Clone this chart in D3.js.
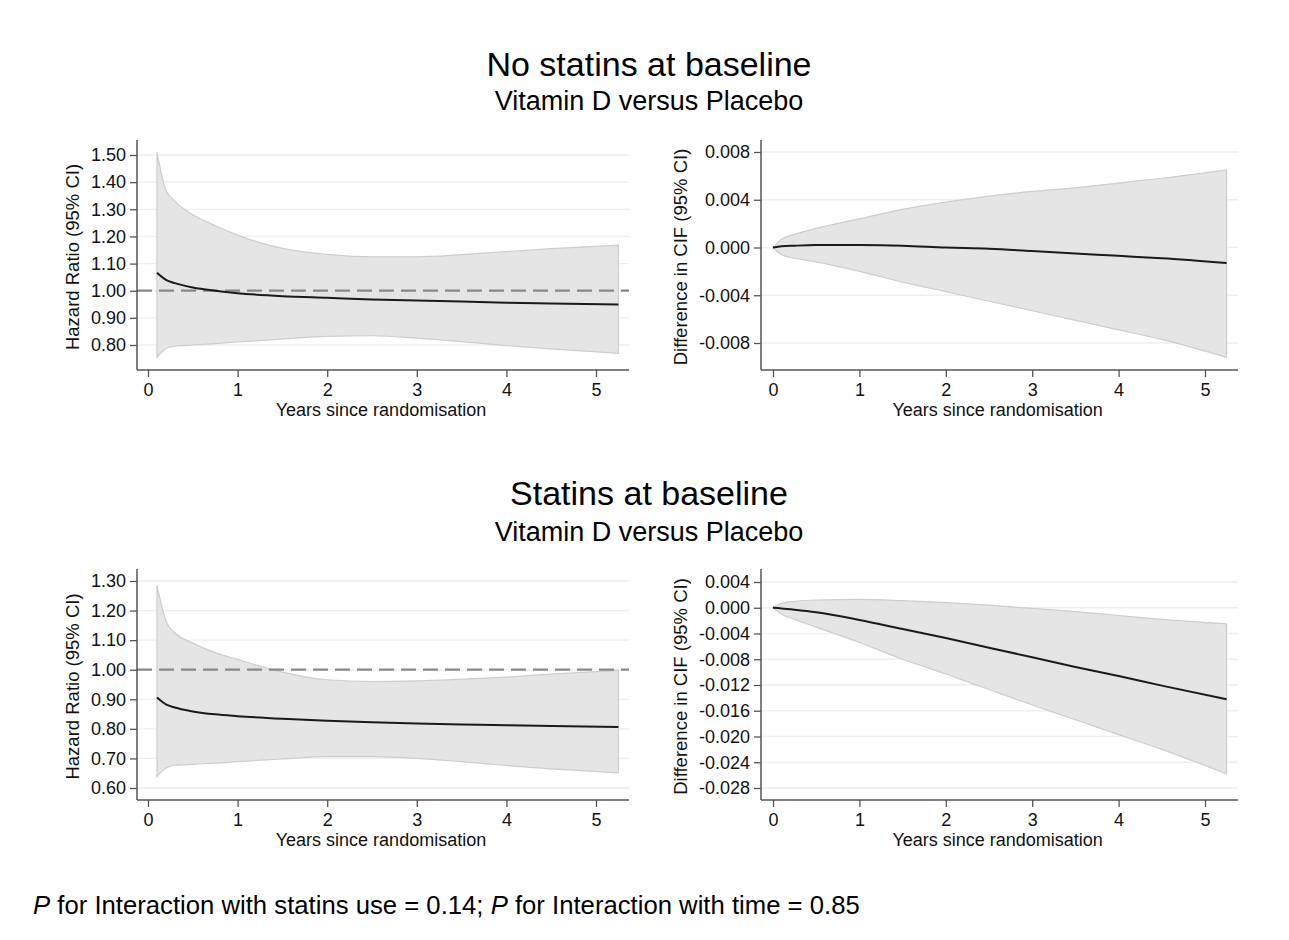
<!DOCTYPE html>
<html>
<head>
<meta charset="utf-8">
<title>Vitamin D versus Placebo by statin use</title>
<script src="https://d3js.org/d3.v7.min.js"></script>
<style>
  html, body { margin: 0; background: #fff; }
  svg { display: block; font-family: "Liberation Sans", Arial, sans-serif; }
</style>
</head>
<body>
<svg id="chart" width="1289" height="940"></svg>
<script>
// Time points (years since randomisation)
const hrYears  = [0.1, 0.2, 0.3, 0.5, 0.75, 1, 1.5, 2, 2.5, 3, 3.5, 4, 4.5, 5.25];
const cifYears = [0, 0.1, 0.25, 0.5, 1, 1.5, 2, 2.5, 3, 3.5, 4, 4.5, 5.25];

// No statins at baseline: hazard ratio
const noStatHR   = [1.066, 1.040, 1.028, 1.012, 1.000, 0.991, 0.980, 0.974, 0.968, 0.964, 0.960, 0.956, 0.953, 0.949];
const noStatHRhi = [1.51, 1.37, 1.33, 1.28, 1.24, 1.205, 1.156, 1.134, 1.125, 1.125, 1.133, 1.144, 1.155, 1.168];
const noStatHRlo = [0.754, 0.787, 0.796, 0.800, 0.805, 0.811, 0.822, 0.832, 0.834, 0.825, 0.812, 0.798, 0.786, 0.769];

// No statins at baseline: difference in CIF
const noStatCIF   = [0, 0.0001, 0.00015, 0.0002, 0.0002, 0.00015, 0.0, -0.0001, -0.0003, -0.0005, -0.0007, -0.0009, -0.0013];
const noStatCIFhi = [0, 0.0007, 0.0011, 0.0016, 0.0024, 0.0032, 0.0038, 0.0043, 0.0047, 0.0050, 0.0054, 0.0058, 0.0065];
const noStatCIFlo = [0, -0.0006, -0.0009, -0.0012, -0.0020, -0.0029, -0.0037, -0.0045, -0.0053, -0.0061, -0.0069, -0.0077, -0.0092];

// Statins at baseline: hazard ratio
const statHR   = [0.906, 0.883, 0.872, 0.859, 0.849, 0.843, 0.834, 0.827, 0.822, 0.818, 0.815, 0.812, 0.810, 0.806];
const statHRhi = [1.285, 1.165, 1.125, 1.09, 1.058, 1.035, 0.992, 0.966, 0.960, 0.962, 0.968, 0.975, 0.985, 0.998];
const statHRlo = [0.638, 0.668, 0.677, 0.680, 0.684, 0.689, 0.698, 0.706, 0.706, 0.700, 0.689, 0.676, 0.665, 0.651];

// Statins at baseline: difference in CIF
const statCIF   = [0, -0.0001, -0.0003, -0.0007, -0.0019, -0.0033, -0.0047, -0.0062, -0.0077, -0.0092, -0.0106, -0.0121, -0.0142];
const statCIFhi = [0, 0.0007, 0.0010, 0.0012, 0.0013, 0.0011, 0.0008, 0.0004, -0.0001, -0.0006, -0.0012, -0.0018, -0.0025];
const statCIFlo = [0, -0.0010, -0.0018, -0.0030, -0.0054, -0.0080, -0.0103, -0.0127, -0.0151, -0.0174, -0.0197, -0.0220, -0.0258];

// Tick values
const xTicks = [0, 1, 2, 3, 4, 5];
const noStatHRTicks  = [0.8, 0.9, 1.0, 1.1, 1.2, 1.3, 1.4, 1.5];
const noStatCIFTicks = [-0.008, -0.004, 0, 0.004, 0.008];
const statHRTicks    = [0.6, 0.7, 0.8, 0.9, 1.0, 1.1, 1.2, 1.3];
const statCIFTicks   = [-0.028, -0.024, -0.020, -0.016, -0.012, -0.008, -0.004, 0, 0.004];

const titles = ["No statins at baseline", "Statins at baseline"];
const subtitle = "Vitamin D versus Placebo";
const xLabel = "Years since randomisation";
const hrLabel = "Hazard Ratio (95% CI)";
const cifLabel = "Difference in CIF (95% CI)";

const svg = d3.select("#chart");

const fmt2 = d3.format(".2f");
const fmt3 = d => d3.format(".3f")(d).replace("\u2212", "-");

const panels = [
  { years: hrYears, est: noStatHR, lo: noStatHRlo, hi: noStatHRhi, ticks: noStatHRTicks, fmt: fmt2,
    label: hrLabel, ref: 1, left: 137, right: 629, x0: 148, x5: 596, top: 140, bottom: 370,
    yA: 1.5, pA: 155, yB: 0.8, pB: 345, labelX: 79 },
  { years: cifYears, est: noStatCIF, lo: noStatCIFlo, hi: noStatCIFhi, ticks: noStatCIFTicks, fmt: fmt3,
    label: cifLabel, ref: null, left: 761, right: 1238, x0: 773, x5: 1205, top: 140, bottom: 370,
    yA: 0.008, pA: 152, yB: -0.008, pB: 343, labelX: 687 },
  { years: hrYears, est: statHR, lo: statHRlo, hi: statHRhi, ticks: statHRTicks, fmt: fmt2,
    label: hrLabel, ref: 1, left: 137, right: 629, x0: 148, x5: 596, top: 569, bottom: 800,
    yA: 1.3, pA: 581, yB: 0.6, pB: 788, labelX: 79 },
  { years: cifYears, est: statCIF, lo: statCIFlo, hi: statCIFhi, ticks: statCIFTicks, fmt: fmt3,
    label: cifLabel, ref: null, left: 761, right: 1238, x0: 773, x5: 1205, top: 569, bottom: 800,
    yA: 0.004, pA: 582, yB: -0.028, pB: 788, labelX: 687 }
];

const axisColor = "#555";

panels.forEach(p => {
  const x = d3.scaleLinear().domain([0, 5]).range([p.x0, p.x5]);
  const y = d3.scaleLinear().domain([p.yB, p.yA]).range([p.pB, p.pA]);
  const g = svg.append("g");

  // gridlines
  g.selectAll(".grid").data(p.ticks).join("line")
    .attr("x1", p.left).attr("x2", p.right)
    .attr("y1", d => y(d)).attr("y2", d => y(d))
    .attr("stroke", "#e9f1f2").attr("stroke-width", 1.3);

  const rows = p.years.map((t, i) => ({ t, est: p.est[i], lo: p.lo[i], hi: p.hi[i] }));

  // confidence band
  g.append("path").datum(rows)
    .attr("fill", "#e5e5e5").attr("stroke", "#cdcdcd").attr("stroke-width", 1.2)
    .attr("d", d3.area().x(d => x(d.t)).y0(d => y(d.lo)).y1(d => y(d.hi)).curve(d3.curveMonotoneX));

  // reference line
  if (p.ref !== null) {
    g.append("line")
      .attr("x1", p.left).attr("x2", p.right)
      .attr("y1", y(p.ref)).attr("y2", y(p.ref))
      .attr("stroke", "#888").attr("stroke-width", 2.2).attr("stroke-dasharray", "15,7");
  }

  // estimate line
  g.append("path").datum(rows)
    .attr("fill", "none").attr("stroke", "#1a1a1a").attr("stroke-width", 2)
    .attr("d", d3.line().x(d => x(d.t)).y(d => y(d.est)).curve(d3.curveMonotoneX));

  // y axis
  const ya = g.append("g").attr("transform", `translate(${p.left},0)`)
    .call(d3.axisLeft(y).tickValues(p.ticks).tickFormat(p.fmt).tickSize(7).tickPadding(4).tickSizeOuter(0));
  ya.select(".domain").remove();
  ya.append("line").attr("y1", p.top).attr("y2", p.bottom).attr("stroke", axisColor).attr("stroke-width", 1.5);
  ya.selectAll(".tick line").attr("stroke", axisColor).attr("stroke-width", 1.3);
  ya.selectAll(".tick text").attr("fill", "#111").style("font-size", "18px");

  // x axis
  const xa = g.append("g").attr("transform", `translate(0,${p.bottom})`)
    .call(d3.axisBottom(x).tickValues(xTicks).tickFormat(d3.format("d")).tickSize(7).tickPadding(6).tickSizeOuter(0));
  xa.select(".domain").remove();
  xa.append("line").attr("x1", p.left).attr("x2", p.right).attr("stroke", axisColor).attr("stroke-width", 1.5);
  xa.selectAll(".tick line").attr("stroke", axisColor).attr("stroke-width", 1.3);
  xa.selectAll(".tick text").attr("fill", "#111").style("font-size", "18px");

  // axis titles
  g.append("text")
    .attr("x", x(2.6)).attr("y", p.bottom + 46)
    .attr("text-anchor", "middle").style("font-size", "18px").attr("fill", "#111")
    .text(xLabel);
  g.append("text")
    .attr("transform", `translate(${p.labelX},${(p.top + p.bottom) / 2 + 2}) rotate(-90)`)
    .attr("text-anchor", "middle").style("font-size", "18.5px").attr("fill", "#111")
    .text(p.label);
});

// block titles
[[76, 110], [505, 541]].forEach(([ty, sy], i) => {
  svg.append("text").attr("x", 649).attr("y", ty).attr("text-anchor", "middle")
    .style("font-size", "34px").attr("fill", "#000").text(titles[i]);
  svg.append("text").attr("x", 649).attr("y", sy).attr("text-anchor", "middle")
    .style("font-size", "27px").attr("fill", "#000").text(subtitle);
});

// footnote
const note = svg.append("text").attr("x", 33).attr("y", 914).style("font-size", "25.7px").attr("fill", "#000");
note.append("tspan").style("font-style", "italic").text("P");
note.append("tspan").text(" for Interaction with statins use = 0.14; ");
note.append("tspan").style("font-style", "italic").text("P");
note.append("tspan").text(" for Interaction with time = 0.85");
</script>
</body>
</html>
